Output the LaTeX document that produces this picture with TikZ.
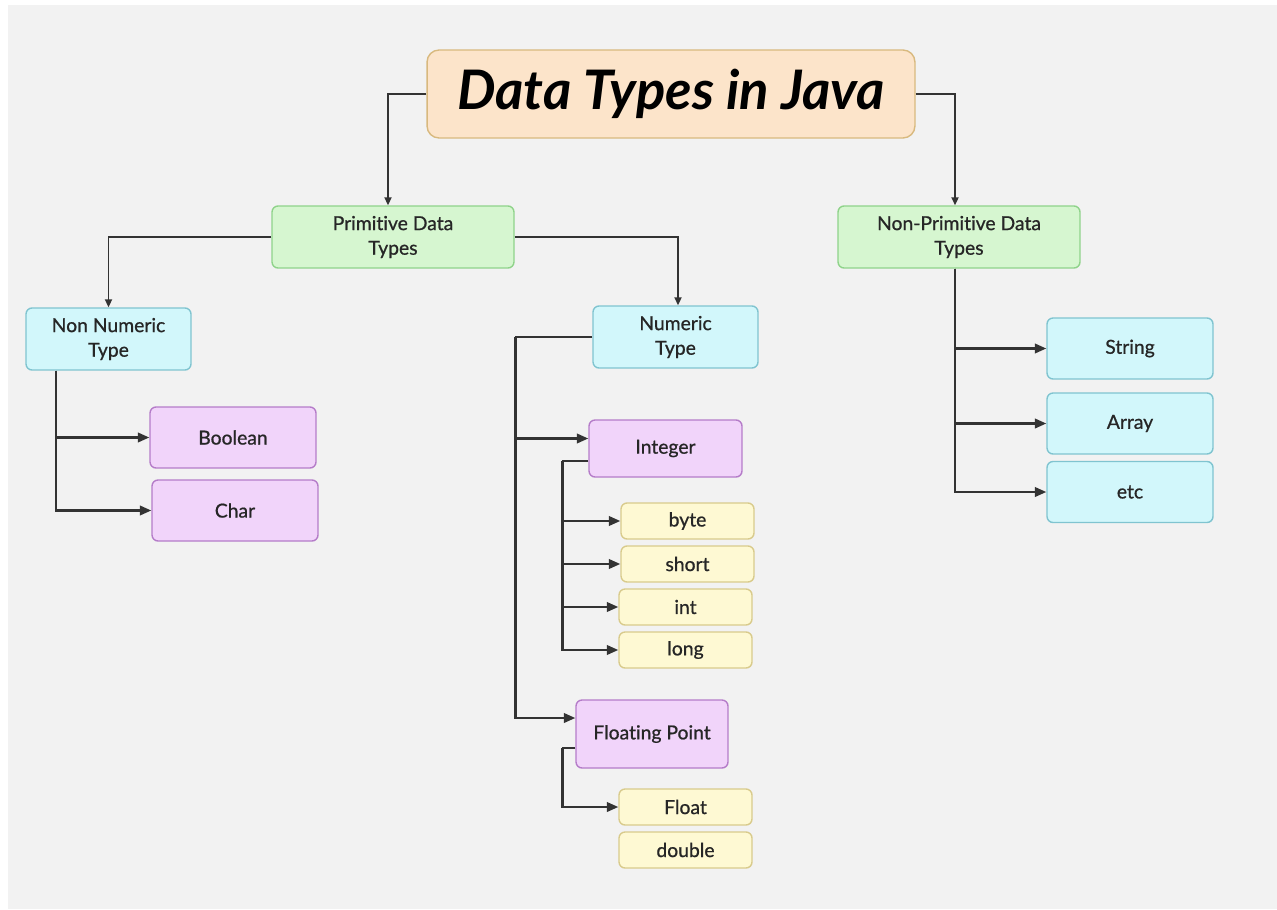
\documentclass[tikz,border=0pt]{standalone}
\usepackage{fontspec}
\setmainfont{Lato}[Ligatures=NoCommon]
\newfontfamily\labelfont{Lato}[FakeBold=0.8, Ligatures=NoCommon]
\usepackage{xcolor}
\usepackage{tikz}
\usetikzlibrary{arrows, arrows.meta, positioning, calc}

\definecolor{bggray}{HTML}{F2F2F2}
\definecolor{linegray}{HTML}{333333}
\definecolor{titlefill}{HTML}{FCE4CA}
\definecolor{titleline}{HTML}{D8B97E}
\definecolor{greenfill}{HTML}{D6F6D0}
\definecolor{greenline}{HTML}{8FD38A}
\definecolor{cyanfill}{HTML}{D2F7FB}
\definecolor{cyanline}{HTML}{80C4D0}
\definecolor{purplefill}{HTML}{F1D4FA}
\definecolor{purpleline}{HTML}{B57CC9}
\definecolor{yellowfill}{HTML}{FEF9D3}
\definecolor{yellowline}{HTML}{D9CB8C}

\begin{document}
\begin{tikzpicture}[
    x=0.02cm, y=-0.02cm,
    box/.style={draw, line width=0.8pt, rounded corners=0.12cm, align=center, text=black!85,
        font=\labelfont\fontsize{11}{14}\selectfont},
    primbox/.style={box, fill=greenfill, draw=greenline, minimum width=4.84cm, minimum height=1.24cm},
    kindbox/.style={box, fill=cyanfill, draw=cyanline, minimum width=3.3cm, minimum height=1.24cm},
    refbox/.style={box, fill=cyanfill, draw=cyanline, minimum width=3.32cm, minimum height=1.22cm},
    groupbox/.style={box, fill=purplefill, draw=purpleline},
    leafbox/.style={box, fill=yellowfill, draw=yellowline, minimum width=2.66cm, minimum height=0.72cm},
    arrow/.style={-{Triangle[length=2.3mm, width=1.9mm]}, line width=1.35pt, draw=linegray},
    toparrow/.style={-{Triangle[length=1.6mm, width=1.4mm]}, line width=1.1pt, draw=linegray},
    link/.style={line width=1.35pt, draw=linegray}
]
    \useasboundingbox (0,0) rectangle (1277,909);
    \fill[white] (0,0) rectangle (1277,909);
    \fill[bggray] (8,5) rectangle (1277,909);

    % Title
    \node[box, fill=titlefill, draw=titleline, rounded corners=0.24cm, minimum width=9.76cm,
        minimum height=1.76cm, text=black, font=\fontsize{31}{36}\selectfont\bfseries\itshape]
        (title) at (671,94) {Data Types in Java};

    % Two families
    \node[primbox] (prim) at (393,237) {Primitive Data\\Types};
    \node[primbox] (nonprim) at (959,237) {Non-Primitive Data\\Types};

    \draw[toparrow] (title.west) -| ([xshift=-0.1cm]prim.north);
    \draw[toparrow] (title.east) -| ([xshift=-0.08cm]nonprim.north);

    % Primitive kinds
    \node[kindbox] (nonnum) at (108.5,339) {Non Numeric\\Type};
    \node[kindbox] (num) at (675.5,337) {Numeric\\Type};

    \draw[toparrow] (prim.west) -| (nonnum.north);
    \draw[toparrow] (prim.east) -| ([xshift=0.05cm]num.north);

    % Non numeric
    \node[groupbox, minimum width=3.32cm, minimum height=1.22cm] (bool) at (233,437.5) {Boolean};
    \node[groupbox, minimum width=3.32cm, minimum height=1.22cm] (char) at (235,510.5) {Char};

    \coordinate (nntrunk) at ([xshift=-1.05cm]nonnum.south);
    \draw[arrow] (nntrunk) |- (bool);
    \draw[arrow] (nntrunk) |- (char);

    % Numeric
    \node[groupbox, minimum width=3.06cm, minimum height=1.14cm] (integer) at (665.5,448.5) {Integer};
    \node[groupbox, minimum width=3.04cm, minimum height=1.36cm] (floating) at (652,734) {Floating Point};

    \coordinate (numtrunk) at ([xshift=-1.54cm]num.west);
    \draw[link] (num.west) -- (numtrunk);
    \draw[arrow] (numtrunk) |- ([yshift=0.2cm]integer.west);
    \draw[arrow] (numtrunk) |- ([yshift=0.32cm]floating.west);

    % Integer types
    \node[leafbox] (byte) at (687.5,521) {byte};
    \node[leafbox] (short) at (687.5,564) {short};
    \node[leafbox] (int) at (685.5,607) {int};
    \node[leafbox] (long) at (685.5,650) {long};

    \coordinate (inttrunk) at ([xshift=-0.52cm, yshift=-0.25cm]integer.west);
    \draw[link] (inttrunk -| integer.west) -- (inttrunk);
    \foreach \leaf in {byte, short, int, long}
        \draw[arrow] (inttrunk) |- (\leaf);

    % Floating point types
    \node[leafbox] (float) at (685.5,807) {Float};
    \node[leafbox] (double) at (685.5,850) {double};

    \coordinate (fltrunk) at ([xshift=-0.26cm, yshift=-0.28cm]floating.west);
    \draw[link] (fltrunk -| floating.west) -- (fltrunk);
    \draw[arrow] (fltrunk) |- (float);

    % Non-primitive types
    \node[refbox] (string) at (1130,348.5) {String};
    \node[refbox] (array) at (1130,423.5) {Array};
    \node[refbox] (etc) at (1130,492) {etc};

    \coordinate (nptrunk) at ([xshift=-0.08cm]nonprim.south);
    \foreach \kind in {string, array, etc}
        \draw[arrow] (nptrunk) |- (\kind);
\end{tikzpicture}
\end{document}
